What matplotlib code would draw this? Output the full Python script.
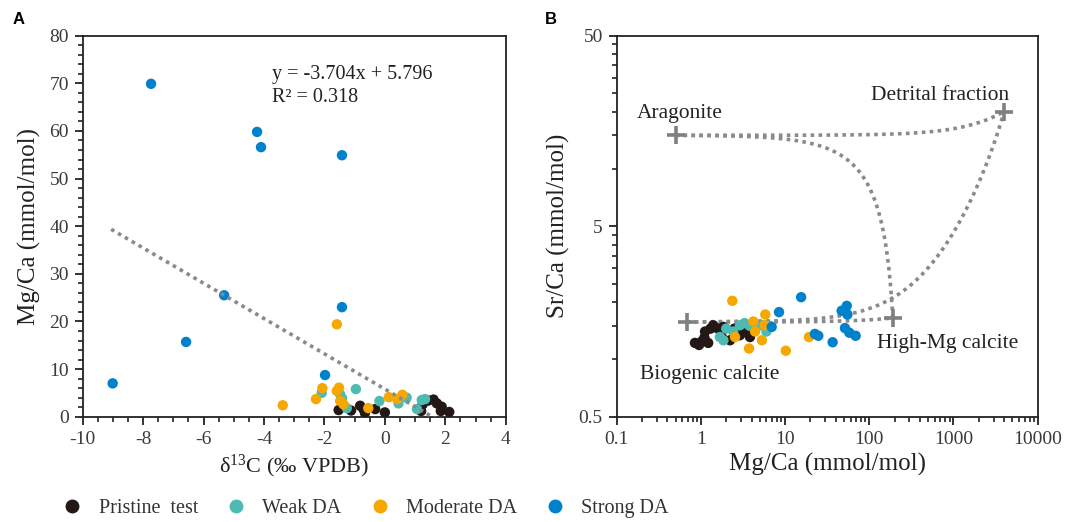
import numpy as np
import matplotlib
matplotlib.use("Agg")
import matplotlib.pyplot as plt
from matplotlib.ticker import FixedLocator, MultipleLocator, NullFormatter
from matplotlib.lines import Line2D

# ---------------- data ----------------
# Panel A: d13C (x) vs Mg/Ca (y)
pristine_d13c = [-1.53, -1.12, -0.82, -0.71, -0.66, -0.32, 0.0, 1.20, 1.25, 1.44, 1.61, 1.72, 1.88, 1.85, 2.13]
pristine_mgca_a = [1.4, 1.3, 2.3, 1.6, 0.8, 1.6, 0.9, 1.2, 2.6, 3.4, 3.6, 2.8, 2.1, 1.2, 1.0]
weak_d13c = [-2.09, -1.48, -1.42, -0.96, -1.26, -0.18, 0.45, 0.72, 1.06, 1.22, 1.33]
weak_mgca_a = [5.0, 4.7, 3.9, 5.8, 1.8, 3.3, 2.8, 4.0, 1.6, 3.5, 3.7]
moderate_d13c = [-3.38, -2.28, -2.07, -1.59, -1.52, -1.48, -1.37, -0.55, 0.13, 0.41, 0.58, -1.59]
moderate_mgca_a = [2.4, 3.7, 6.0, 5.4, 6.1, 3.3, 2.6, 1.8, 4.1, 3.7, 4.6, 19.4]
strong_d13c = [-9.01, -7.74, -6.58, -5.32, -4.23, -4.10, -1.98, -1.42, -1.42]
strong_mgca_a = [7.0, 69.9, 15.7, 25.5, 59.8, 56.6, 8.75, 23.0, 54.9]
fit_slope = -3.704
fit_intercept = 5.796
fit_r2 = 0.318

# Panel B: Mg/Ca (x) vs Sr/Ca (y)
pristine_mgca_b = [0.85, 0.95, 1.02, 1.12, 1.22, 1.40, 1.30, 1.60, 1.85, 1.77, 2.22, 2.50, 2.91, 3.20, 3.66, 3.83, 2.60, 1.10]
pristine_srca_b = [1.22, 1.19, 1.24, 1.40, 1.22, 1.51, 1.45, 1.45, 1.48, 1.31, 1.26, 1.45, 1.34, 1.40, 1.37, 1.31, 1.38, 1.30]
weak_mgca_b = [1.68, 2.00, 2.42, 2.91, 3.30, 3.80, 4.60, 5.50, 6.00, 6.60, 1.85]
weak_srca_b = [1.31, 1.45, 1.40, 1.51, 1.55, 1.50, 1.48, 1.51, 1.40, 1.50, 1.26]
moderate_mgca_b = [2.36, 5.82, 5.70, 4.40, 5.30, 3.73, 10.2, 19.2, 2.54, 4.20]
moderate_srca_b = [2.03, 1.72, 1.51, 1.40, 1.26, 1.14, 1.11, 1.31, 1.31, 1.58]
strong_mgca_b = [6.93, 8.47, 15.5, 22.6, 24.8, 36.7, 47.0, 54.0, 55.0, 51.4, 58.0, 68.9]
strong_srca_b = [1.48, 1.77, 2.12, 1.36, 1.33, 1.23, 1.80, 1.91, 1.72, 1.46, 1.38, 1.33]

# End-members
em_names = ["Aragonite", "Detrital fraction", "High-Mg calcite", "Biogenic calcite"]
em_mgca = [0.5, 4000.0, 190.0, 0.68]
em_srca = [15.0, 20.0, 1.65, 1.57]
# mixing pairs (from, to, Sr weighting)
mix_pairs = [(0, 1, 1.0), (0, 2, 1.0), (3, 1, 0.6), (3, 2, 1.0)]

group_names = ["Pristine  test", "Weak DA", "Moderate DA", "Strong DA"]
group_colors = ["#231815", "#4dbab3", "#f6a800", "#0081cc"]

# ---------------- style ----------------
serif = ["Liberation Serif", "DejaVu Serif"]
plt.rcParams["font.family"] = serif
plt.rcParams["axes.unicode_minus"] = False
plt.rcParams["mathtext.fontset"] = "custom"
plt.rcParams["mathtext.rm"] = "Liberation Serif"
tick_color = "#3a3a3a"
line_gray = "#8a8a8a"

fig = plt.figure(figsize=(10.69, 5.22), dpi=100)
axA = fig.add_axes([0.0774, 0.2017, 0.3957, 0.7299])
axB = fig.add_axes([0.5769, 0.2017, 0.3938, 0.7299])

ms = 56

# ---------------- Panel A ----------------
groupsA = [(pristine_d13c, pristine_mgca_a), (weak_d13c, weak_mgca_a),
           (moderate_d13c, moderate_mgca_a), (strong_d13c, strong_mgca_a)]
for (xs, ys), c in zip(groupsA, group_colors):
    axA.scatter(xs, ys, s=ms, color=c, edgecolors="none", zorder=3)

all_x = np.concatenate([np.array(g[0]) for g in groupsA])
xl = np.linspace(all_x.min() - 0.05, all_x.max() + 0.05, 50)
axA.plot(xl, fit_slope * xl + fit_intercept, linestyle=(0, (1, 1.2)),
         color=line_gray, lw=2.6, zorder=4)

axA.set_xlim(-10, 4)
axA.set_ylim(0, 80)
axA.xaxis.set_major_locator(MultipleLocator(2))
axA.xaxis.set_minor_locator(MultipleLocator(0.5))
axA.yaxis.set_major_locator(MultipleLocator(10))
axA.yaxis.set_minor_locator(MultipleLocator(2))
axA.text(0.4475, 0.897, f"y = {fit_slope}x + {fit_intercept}", transform=axA.transAxes,
         fontsize=14.5, va="center", ha="left", color="#222222")
axA.text(0.4475, 0.839, f"R\u00b2 = {fit_r2}", transform=axA.transAxes,
         fontsize=14.5, va="center", ha="left", color="#222222")
axA.set_xlabel(r"$\mathregular{\delta^{13}}$C (‰ VPDB)", fontsize=16, color="#222222", labelpad=4)
axA.set_ylabel("Mg/Ca (mmol/mol)", fontsize=18, color="#222222", labelpad=6)

# ---------------- Panel B ----------------
for a, b, k in mix_pairs:
    f = np.linspace(0, 1, 400)
    mx = (1 - f) * em_mgca[a] + f * em_mgca[b]
    sy = ((1 - f) * em_srca[a] + f * k * em_srca[b]) / ((1 - f) + f * k)
    axB.plot(mx, sy, linestyle=(0, (1, 1.2)), color=line_gray, lw=2.6, zorder=2)

axB.scatter(em_mgca, em_srca, marker="+", s=150, color="#808080", linewidths=2.6, zorder=5)

groupsB = [(pristine_mgca_b, pristine_srca_b), (weak_mgca_b, weak_srca_b),
           (moderate_mgca_b, moderate_srca_b), (strong_mgca_b, strong_srca_b)]
for (xs, ys), c in zip(groupsB, group_colors):
    axB.scatter(xs, ys, s=ms, color=c, edgecolors="none", zorder=3)

axB.set_xscale("log")
axB.set_yscale("log")
axB.set_xlim(0.1, 10000)
axB.set_ylim(0.5, 50)
axB.xaxis.set_major_locator(FixedLocator([0.1, 1, 10, 100, 1000, 10000]))
axB.set_xticklabels(["0.1", "1", "10", "100", "1000", "10000"])
axB.yaxis.set_major_locator(FixedLocator([0.5, 5, 50]))
axB.set_yticklabels(["0.5", "5", "50"])
ymin = list(np.arange(1.0, 5.0, 0.5)) + list(np.arange(10, 50, 5))
axB.yaxis.set_minor_locator(FixedLocator(ymin))
axB.yaxis.set_minor_formatter(NullFormatter())
axB.xaxis.set_minor_formatter(NullFormatter())

label_pos = {"Aragonite": (0.048, 0.797, "left"),
             "Detrital fraction": (0.932, 0.842, "right"),
             "High-Mg calcite": (0.618, 0.193, "left"),
             "Biogenic calcite": (0.055, 0.112, "left")}
for name in em_names:
    x, y, ha = label_pos[name]
    axB.text(x, y, name, transform=axB.transAxes, fontsize=15.5, ha=ha, va="center", color="#222222")

axB.set_xlabel("Mg/Ca (mmol/mol)", fontsize=18, color="#222222", labelpad=4)
axB.set_ylabel("Sr/Ca (mmol/mol)", fontsize=18, color="#222222", labelpad=6)

# common axis styling
for ax in (axA, axB):
    for sp in ax.spines.values():
        sp.set_linewidth(1.3)
        sp.set_color("#222222")
    ax.tick_params(which="major", direction="out", length=6, width=1.3, colors="#222222",
                   labelsize=14, labelcolor=tick_color, pad=4)
    ax.tick_params(which="minor", direction="out", length=3.5, width=1.2, colors="#222222")

# panel letters
fig.text(0.012, 0.962, "A", fontsize=12, fontweight="bold", family="Liberation Sans", va="center")
fig.text(0.510, 0.962, "B", fontsize=12, fontweight="bold", family="Liberation Sans", va="center")

# legend
handles = [Line2D([0], [0], marker="o", linestyle="none", markersize=10,
                  markerfacecolor=c, markeredgecolor="none") for c in group_colors]
fig.legend(handles, group_names, loc="center", bbox_to_anchor=(0.342, 0.026), ncol=4,
           frameon=False, fontsize=14.5, handletextpad=0.8, columnspacing=1.4,
           handlelength=1.0, labelcolor="#333333")

fig.savefig("out.png", dpi=100)
